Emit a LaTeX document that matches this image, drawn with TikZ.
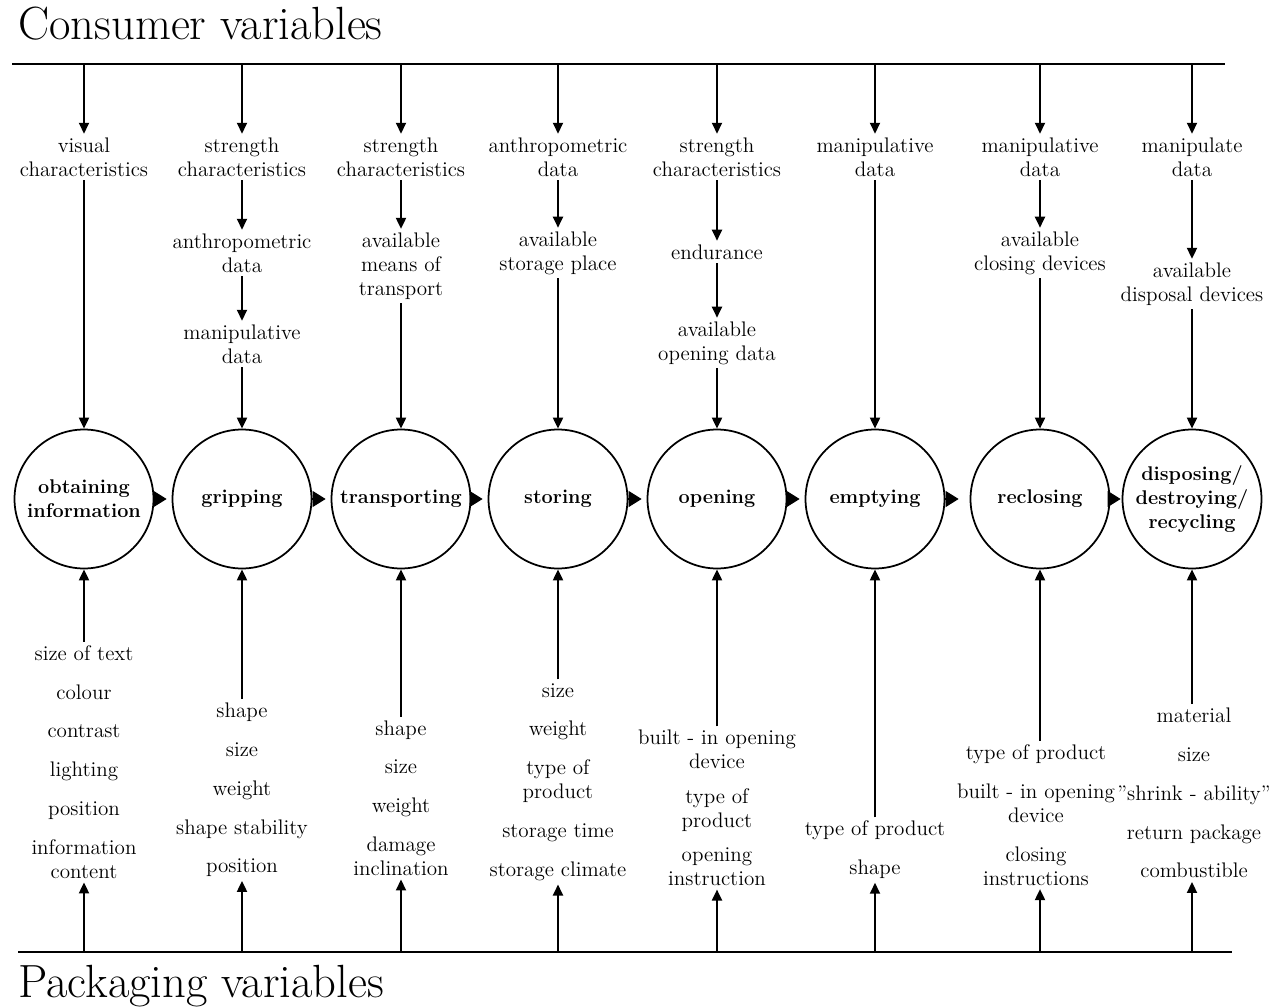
\documentclass[tikz,border=0pt]{standalone}
\usetikzlibrary{arrows.meta}

\begin{document}
\begin{tikzpicture}[x=0.02cm, y=-0.02cm,
    flow/.style = {-{Triangle[length=0.22cm, width=0.2cm]}, line width=1.1pt},
    next/.style = {-{Triangle[length=0.26cm, width=0.32cm]}, line width=0.6pt,
      shorten >=0.1cm},
    rule/.style = {line width=1.6pt},
    var/.style = {align=center, inner sep=2pt,
      font=\fontsize{12}{13.6}\selectfont},
    task/.style = {shape=circle, draw, line width=1pt,
      minimum size=2.78cm, inner sep=0pt, align=center,
      font=\fontsize{11.3}{13.6}\selectfont\bfseries},
    heading/.style = {anchor=base west, inner sep=0pt,
      font=\fontsize{26.5}{30}\selectfont}]
  \useasboundingbox (0,0) rectangle (1272,1007);

  \node[heading] (consumer) at (18,40) {Consumer variables};
  \node[heading] (packaging) at (18,997) {Packaging variables};
  \draw[rule] (12,64) -- (1225,64);
  \draw[rule] (18,952) -- (1232,952);

  \coordinate (info-top) at (84,64);
  \coordinate (grip-top) at (242,64);
  \coordinate (transp-top) at (401,64);
  \coordinate (store-top) at (558,64);
  \coordinate (open-top) at (717,64);
  \coordinate (empty-top) at (875,64);
  \coordinate (reclose-top) at (1040,64);
  \coordinate (dispose-top) at (1192,64);
  \coordinate (info-bot) at (84,952);
  \coordinate (grip-bot) at (242,952);
  \coordinate (transp-bot) at (401,952);
  \coordinate (store-bot) at (558,952);
  \coordinate (open-bot) at (717,952);
  \coordinate (empty-bot) at (875,952);
  \coordinate (reclose-bot) at (1040,952);
  \coordinate (dispose-bot) at (1192,952);

  \node[task] (info) at (84,499) {obtaining\\information};
  \node[task] (grip) at (242,499) {gripping};
  \node[task] (transp) at (401,499) {transporting};
  \node[task] (store) at (558,499) {storing};
  \node[task] (open) at (717,499) {opening};
  \node[task] (empty) at (875,499) {emptying};
  \node[task] (reclose) at (1040,499) {reclosing};
  \node[task] (dispose) at (1192,499) {disposing/\\destroying/\\recycling};

  \draw[next] (info.east) -- (grip.west);
  \draw[next] (grip.east) -- (transp.west);
  \draw[next] (transp.east) -- (store.west);
  \draw[next] (store.east) -- (open.west);
  \draw[next] (open.east) -- (empty.west);
  \draw[next, shorten >=0.22cm] (empty.east) -- (reclose.west);
  \draw[next, shorten >=0.02cm] (reclose.east) -- (dispose.west);

  \node[var] (info-c1) at (84,157) {visual\\characteristics};
  \node[var] (grip-c1) at (242,157) {strength\\characteristics};
  \node[var] (grip-c2) at (242,253) {anthropometric\\data};
  \node[var] (grip-c3) at (242,344) {manipulative\\data};
  \node[var] (transp-c1) at (401,157) {strength\\characteristics};
  \node[var] (transp-c2) at (401,266) {available\\means of\\transport};
  \node[var] (store-c1) at (558,157) {anthropometric\\data};
  \node[var] (store-c2) at (558,253) {available\\storage place};
  \node[var] (open-c1) at (717,157) {strength\\characteristics};
  \node[var] (open-c2) at (717,252) {endurance};
  \node[var] (open-c3) at (717,343) {available\\opening data};
  \node[var] (empty-c1) at (875,157) {manipulative\\data};
  \node[var] (reclose-c1) at (1040,157) {manipulative\\data};
  \node[var] (reclose-c2) at (1040,253) {available\\closing devices};
  \node[var] (dispose-c1) at (1192,157) {manipulate\\data};
  \node[var] (dispose-c2) at (1192,284) {available\\disposal devices};

  \draw[flow] (info-top) -- (info-c1);
  \draw[flow] (info-c1) -- (info);
  \draw[flow] (grip-top) -- (grip-c1);
  \draw[flow] (grip-c1) -- (grip-c2);
  \draw[flow] (grip-c2) -- (grip-c3);
  \draw[flow] (grip-c3) -- (grip);
  \draw[flow] (transp-top) -- (transp-c1);
  \draw[flow] (transp-c1) -- (transp-c2);
  \draw[flow] (transp-c2) -- (transp);
  \draw[flow] (store-top) -- (store-c1);
  \draw[flow] (store-c1) -- (store-c2);
  \draw[flow] (store-c2) -- (store);
  \draw[flow] (open-top) -- (open-c1);
  \draw[flow] (open-c1) -- (open-c2);
  \draw[flow] (open-c2) -- (open-c3);
  \draw[flow] (open-c3) -- (open);
  \draw[flow] (empty-top) -- (empty-c1);
  \draw[flow] (empty-c1) -- (empty);
  \draw[flow] (reclose-top) -- (reclose-c1);
  \draw[flow] (reclose-c1) -- (reclose-c2);
  \draw[flow] (reclose-c2) -- (reclose);
  \draw[flow] (dispose-top) -- (dispose-c1);
  \draw[flow] (dispose-c1) -- (dispose-c2);
  \draw[flow] (dispose-c2) -- (dispose);

  \node[var] (info-p) at (84,762) {size of text\\[8.5pt] colour\\[8.5pt] contrast\\[8.5pt]
    lighting\\[8.5pt] position\\[8.5pt] information\\content};
  \node[var] (grip-p) at (242,790) {shape\\[8.5pt] size\\[8.5pt] weight\\[8.5pt]
    shape stability\\[8.5pt] position};
  \node[var] (transp-p) at (401,798) {shape\\[8.5pt] size\\[8.5pt] weight\\[8.5pt]
    damage\\inclination};
  \node[var] (store-p) at (558,782) {size\\[8.5pt] weight\\[8.5pt] type of\\product\\[8.5pt]
    storage time\\[8.5pt] storage climate};
  \node[var] (open-p) at (717,808) {built - in opening\\device\\[6pt] type of\\product\\[6pt]
    opening\\instruction};
  \node[var] (empty-p) at (875,850) {type of product\\[8.5pt] shape};
  \node[var] (reclose-p) at (1036,815) {type of product\\[8.5pt] built - in opening\\device\\[8.5pt]
    closing\\instructions};
  \node[var] (dispose-p) at (1194,793) {material\\[8.5pt] size\\[8.5pt] "shrink - ability"\\[8.5pt]
    return package\\[8.5pt] combustible};

  \draw[flow] (info-p) -- (info);
  \draw[flow] (info-bot) -- (info-p);
  \draw[flow] (grip-p) -- (grip);
  \draw[flow] (grip-bot) -- (grip-p);
  \draw[flow] (transp-p) -- (transp);
  \draw[flow] (transp-bot) -- (transp-p);
  \draw[flow] (store-p) -- (store);
  \draw[flow] (store-bot) -- (store-p);
  \draw[flow] (open-p) -- (open);
  \draw[flow] (open-bot) -- (open-p);
  \draw[flow] (empty-p) -- (empty);
  \draw[flow] (empty-bot) -- (empty-p);
  \draw[flow] (reclose-p.north -| reclose) -- (reclose);
  \draw[flow] (reclose-bot) -- (reclose-p.south -| reclose-bot);
  \draw[flow] (dispose-p.north -| dispose) -- (dispose);
  \draw[flow] (dispose-bot) -- (dispose-p.south -| dispose-bot);
\end{tikzpicture}
\end{document}
